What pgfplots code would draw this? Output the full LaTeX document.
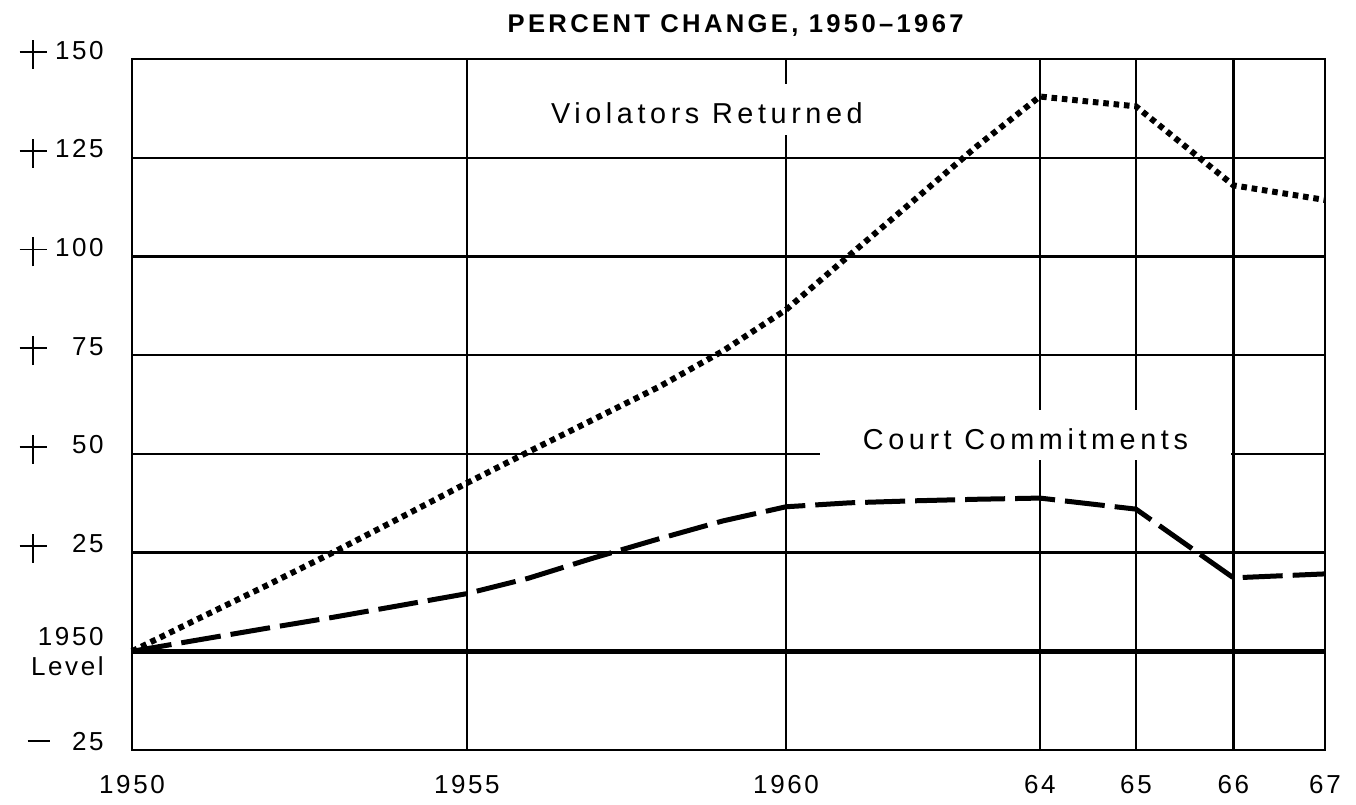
\documentclass[border=0pt]{standalone}
\usepackage{fontspec}
\setmainfont{Liberation Sans}
\newfontfamily\labfont{Liberation Sans}[LetterSpace=16]
\newfontfamily\tickfont{Liberation Sans}[LetterSpace=10]
\newfontfamily\titlefont{Liberation Sans}[LetterSpace=13]
\usepackage{pgfplots}
\usepackage{pgfplotstable}
\pgfplotsset{compat=1.18}

% x = position along the (irregular) time axis, 1950 = 0; 64..67 are spread wider
\pgfplotstableread{
pos    val
0      0
1.02   8.3
2.05   16.6
3.07   25
4.10   33.8
5.12   42.6
6.06   50.5
7.03   58.5
8.06   67
9.03   76
10.00  86.5
10.97  100.3
11.94  114
12.91  127.8
13.88  140.5
15.35  138
16.84  118
18.24  114.3
}\violators

\pgfplotstableread{
pos    val
0      0
1.02   2.9
2.05   5.8
3.07   8.6
4.10   11.6
5.12   14.6
6.06   18.5
7.03   23.5
8.06   28.5
9.03   33
10.00  36.6
10.97  37.6
11.94  38.1
12.91  38.5
13.88  38.8
15.35  36
16.84  18.6
18.24  19.6
}\court

\newcommand\plusg{\hbox to 13.5pt{\rule[3.0pt]{13.5pt}{0.9pt}\hskip-7.2pt\rule[-5pt]{0.9pt}{14.5pt}\hss}}
\newcommand\yl[1]{\makebox[15pt][l]{\plusg}\makebox[27pt][r]{#1}}
\newcommand\ylm[1]{\makebox[15pt][l]{\hskip4pt\rule[3.8pt]{11pt}{1pt}}\makebox[27pt][r]{#1}}

\begin{document}
\begin{tikzpicture}
\begin{axis}[
  at={(0,0)}, anchor=south west,
  width=596.5pt, height=345.5pt, scale only axis,
  xmin=0, xmax=18.24, ymin=-25, ymax=150,
  axis line style={line width=1.4pt},
  xtick={0,5.12,10,13.88,15.35,16.84,18.24},
  xticklabels={1950,1955,1960,64,65,66,67},
  ytick={-25,25,50,75,100,125,150},
  yticklabels={\ylm{25},\yl{25},\yl{50},\yl{75},\yl{100},\yl{125},\yl{150}},
  extra y ticks={0},
  extra y tick labels={{1950\\Level}},
  extra y tick style={
    major grid style={line width=2.4pt, black},
    yticklabel style={anchor=east, align=right}},
  grid=major,
  major grid style={line width=1.2pt, black},
  major tick length=0pt,
  tick style={draw=none},
  xticklabel style={font=\tickfont\fontsize{13}{15}\selectfont, anchor=north, inner sep=0pt, yshift=-12.5pt},
  yticklabel style={font=\tickfont\fontsize{13}{15}\selectfont, anchor=base east, inner sep=0pt, xshift=-14pt},
  title={PERCENT CHANGE, 1950\textendash1967},
  title style={at={(0.506,1)}, anchor=base, inner sep=0pt, yshift=7.5pt, font=\titlefont\bfseries\fontsize{12.8}{15}\selectfont},
  clip=false,
]
\addplot[black, line width=3pt, dash pattern=on 2.8pt off 2.4pt] table[x=pos, y=val] {\violators};
\addplot[black, line width=2.5pt, dash pattern=on 20pt off 5pt] table[x=pos, y=val] {\court};

\node[fill=white, inner xsep=3pt, inner ysep=0pt, text height=20pt, text depth=5.5pt, anchor=base,
      font=\labfont\fontsize{14.4}{16}\selectfont] at (axis cs:8.79,133.6) {Violators Returned};
\node[fill=white, inner sep=0pt, text height=20pt, text depth=5pt, minimum width=205.4pt, anchor=base,
      font=\labfont\fontsize{14.4}{16}\selectfont] at (axis cs:13.66,51.1) {Court Commitments};
\end{axis}
\path[use as bounding box] (-66pt,-27pt) rectangle (612pt,375pt);
\end{tikzpicture}
\end{document}
